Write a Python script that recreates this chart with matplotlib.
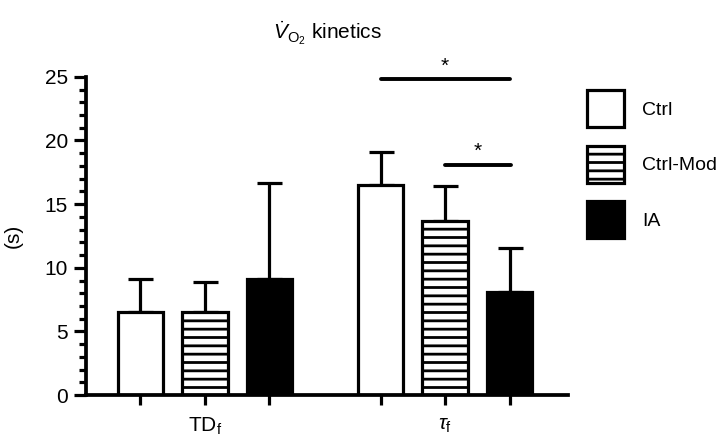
import matplotlib.pyplot as plt
import numpy as np
from matplotlib.patches import Patch
from matplotlib.ticker import MultipleLocator

plt.rcParams['font.family'] = ['Liberation Sans', 'DejaVu Sans']
plt.rcParams['hatch.linewidth'] = 2.0
plt.rcParams['mathtext.fontset'] = 'custom'
plt.rcParams['mathtext.rm'] = 'Liberation Sans'
plt.rcParams['mathtext.it'] = 'Liberation Sans:italic'

groups = [r'TD$_\mathrm{f}$', r'$\tau_\mathrm{f}$']
series = ['Ctrl', 'Ctrl-Mod', 'IA']
ctrl = [6.5, 16.5]
ctrl_mod = [6.5, 13.7]
ia = [9.1, 8.1]
ctrl_err = [2.6, 2.6]
ctrl_mod_err = [2.4, 2.75]
ia_err = [7.6, 3.45]

fs = 15
fig = plt.figure(figsize=(7.24, 4.44), dpi=100)
ax = fig.add_axes([0.119, 0.110, 0.666, 0.717])

lw = 2.3
group_x = np.array([1.0, 4.72])
width = 0.70
styles = [dict(facecolor='white', hatch=None),
          dict(facecolor='white', hatch='--'),
          dict(facecolor='black', hatch=None)]
vals = [ctrl, ctrl_mod, ia]
errs = [ctrl_err, ctrl_mod_err, ia_err]
for i in range(3):
    xs = group_x + (i - 1)
    ax.errorbar(xs, vals[i], yerr=[np.zeros(2), errs[i]], fmt='none',
                ecolor='black', elinewidth=lw, capsize=9, capthick=lw, zorder=1)
    ax.bar(xs, vals[i], width=width, edgecolor='black', linewidth=lw,
           zorder=2, **styles[i])

ax.set_xlim(-0.84, 6.63)
ax.set_ylim(0, 25)
tick_x = np.concatenate([group_x - 1, group_x, group_x + 1])
tick_x.sort()
ax.set_xticks(tick_x)
ax.set_xticklabels(['', groups[0], '', '', groups[1], ''], fontsize=fs)
ax.yaxis.set_major_locator(MultipleLocator(5))
ax.yaxis.set_minor_locator(MultipleLocator(1))
ax.tick_params(axis='y', which='major', direction='out', length=9, width=lw, labelsize=fs, pad=4)
ax.tick_params(axis='y', which='minor', direction='out', length=5, width=lw)
ax.tick_params(axis='x', which='major', direction='out', length=7, width=lw, pad=8)
for s in ['top', 'right']:
    ax.spines[s].set_visible(False)
for s in ['left', 'bottom']:
    ax.spines[s].set_linewidth(lw + 0.4)
ax.set_ylabel('(s)', fontsize=fs, labelpad=16)

# significance bars
ax.plot([group_x[1] - 1, group_x[1] + 1], [24.8, 24.8], color='black', lw=lw + 0.5,
        solid_capstyle='round', clip_on=False)
ax.text(group_x[1], 25.1, '*', ha='center', va='bottom', fontsize=fs, clip_on=False)
ax.plot([group_x[1], group_x[1] + 1.02], [18.1, 18.1], color='black', lw=lw + 0.5,
        solid_capstyle='round', clip_on=False)
ax.text(group_x[1] + 0.5, 18.4, '*', ha='center', va='bottom', fontsize=fs)

ax.set_title(r'$\dot{V}_{\mathrm{O_2}}$ kinetics', fontsize=fs, pad=27)

handles = [Patch(edgecolor='black', linewidth=lw, **styles[i]) for i in range(3)]
fig.legend(handles, series, loc='upper left', bbox_to_anchor=(0.786, 0.836),
           frameon=False, fontsize=14, handlelength=1.95, handleheight=2.55,
           labelspacing=0.95, handletextpad=0.9)

plt.savefig('out.png', dpi=100)
